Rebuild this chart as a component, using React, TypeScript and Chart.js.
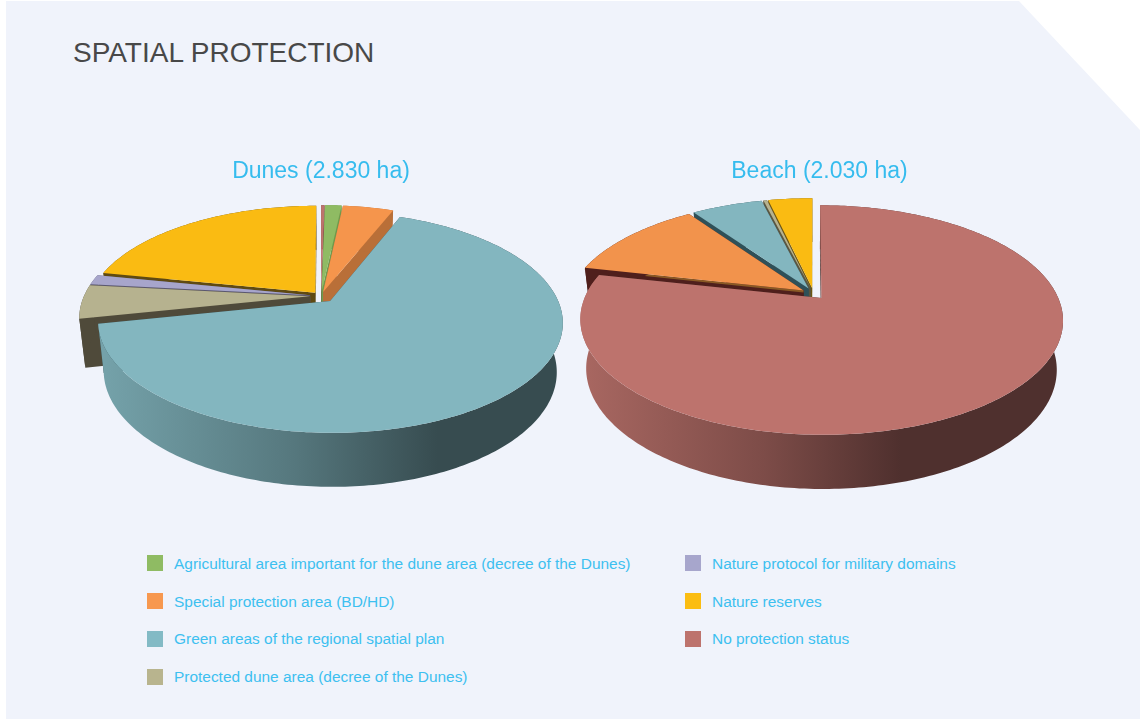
import React, { useEffect, useRef } from "react";
import { Chart, registerables } from "chart.js";

Chart.register(...registerables);

const pageTitle = "SPATIAL PROTECTION";
const dunesTitle = "Dunes (2.830 ha)";
const beachTitle = "Beach (2.030 ha)";

const dunesLabels = [
  "No protection status",
  "Agricultural area important for the dune area (decree of the Dunes)",
  "Special protection area (BD/HD)",
  "Green areas of the regional spatial plan",
  "Protected dune area (decree of the Dunes)",
  "Nature protocol for military domains",
  "Nature reserves",
];
const dunesValues = [0.3, 1.4, 4.3, 65.7, 5.0, 1.5, 21.8];
const dunesColors = ["#bd736d", "#8fbb63", "#f5954c", "#83b6bf", "#b6b28f", "#a7a5cb", "#fabb12"];
const dunesWalls = ["#6b3f3b", "#6f9a4c", "#b96f38", "#344c51", "#4f4a3a", "#5b5870", "#5f4a12"];
const dunesTrims = [null, null, null, null, null, null, null];
const dunesOffsets = [9, 9, 9, 14, 11, 11, 9];

const beachLabels = [
  "No protection status",
  "Special protection area (BD/HD)",
  "Green areas of the regional spatial plan",
  "Protected dune area (decree of the Dunes)",
  "Nature reserves",
];
const beachValues = [78.5, 11.8, 5.8, 0.3, 3.6];
const beachColors = ["#bd736d", "#f2934c", "#83b6bf", "#b6b28f", "#fabb12"];
const beachWalls = ["#4f302c", "#4f1f1c", "#2f5058", "#5a5640", "#6b5512"];
const beachTrims = [null, "#8a5a25", null, null, null];
const beachOffsets = [12.5, 12, 12, 12, 12];

const legendLeft = [
  ["Agricultural area important for the dune area (decree of the Dunes)", "#8fbb63"],
  ["Special protection area (BD/HD)", "#f7984f"],
  ["Green areas of the regional spatial plan", "#83bac5"],
  ["Protected dune area (decree of the Dunes)", "#b8b48e"],
];
const legendRight = [
  ["Nature protocol for military domains", "#a7a6cc"],
  ["Nature reserves", "#fbbd12"],
  ["No protection status", "#bd736d"],
];

function scale(hex: string, f: number) {
  const n = parseInt(hex.slice(1), 16);
  const c = [(n >> 16) & 255, (n >> 8) & 255, n & 255].map((v) => Math.round(v * f));
  return `rgb(${c[0]},${c[1]},${c[2]})`;
}

type View = {
  k: number;
  squash: number;
  depth: number;
  sx: number;
  sy: number;
  shiftX: number;
  darkStop: number;
  walls: string[];
  trims: (string | null)[];
};

function makePie3d(view: View) {
  return {
    id: "pie3d",
    beforeDatasetsDraw(chart: any) {
      const ctx: CanvasRenderingContext2D = chart.ctx;
      const arcs: any[] = chart.getDatasetMeta(0).data;
      const colors: string[] = chart.data.datasets[0].backgroundColor;
      const values: number[] = chart.data.datasets[0].data;
      const offsets: number[] = chart.data.datasets[0].offset;
      const biggest = values.indexOf(Math.max(...values));
      const { k, squash, depth, sx, sy } = view;

      const order = arcs
        .map((arc, i) => {
          const mid = (arc.startAngle + arc.endAngle) / 2 + Math.PI / 2;
          return { arc, i, mid, back: -Math.cos(mid) };
        })
        .sort((a, b) => a.back - b.back);

      for (const { arc, i, mid } of order) {
        const R = arc.outerRadius;
        const cx = arc.x + view.shiftX;
        const d = offsets[i] / R;
        const u0 = d * Math.sin(mid);
        const v0 = -d * Math.cos(mid);
        const t0 = arc.startAngle + Math.PI / 2;
        const t1 = arc.endAngle + Math.PI / 2;

        const project = (t: number, r: number, low: boolean) => {
          const u = u0 + r * Math.sin(t);
          const v = v0 - r * Math.cos(t);
          const w = 1 - k * v;
          const X = (R * u) / w;
          const Y = (R * squash * v) / w;
          return low ? [cx + X * sx, arc.y + Y * sy + depth] : [cx + X, arc.y + Y];
        };
        const rim = (low: boolean) => {
          const n = Math.max(2, Math.ceil(((t1 - t0) * 180) / Math.PI));
          const pts: number[][] = [];
          for (let s = 0; s <= n; s++) pts.push(project(t0 + ((t1 - t0) * s) / n, 1, low));
          return pts;
        };
        const fill = (pts: number[][], style: any) => {
          ctx.beginPath();
          pts.forEach((p, j) => (j ? ctx.lineTo(p[0], p[1]) : ctx.moveTo(p[0], p[1])));
          ctx.closePath();
          ctx.fillStyle = style;
          ctx.fill();
        };

        const wall = view.walls[i];
        for (const t of [t0, t1]) {
          fill([project(t, 0, false), project(t, 1, false), project(t, 1, true), project(t, 0, true)], wall);
        }
        const trim = view.trims[i];
        if (trim) {
          const a = project(t0, 0, false);
          const b = project(t0, 1, false);
          ctx.beginPath();
          ctx.moveTo(a[0], a[1] + 1);
          ctx.lineTo(b[0], b[1] + 1);
          ctx.strokeStyle = trim;
          ctx.lineWidth = 2;
          ctx.stroke();
        }
        let outer: any = wall;
        if (i === biggest) {
          const g = ctx.createLinearGradient(cx - R * 1.01, 0, cx + R * 1.05, 0);
          g.addColorStop(0, scale(colors[i], 0.9));
          g.addColorStop(view.darkStop * 0.58, scale(colors[i], 0.66));
          g.addColorStop(view.darkStop, scale(colors[i], 0.42));
          g.addColorStop(1, scale(colors[i], 0.42));
          outer = g;
        }
        fill([...rim(false), ...rim(true).reverse()], outer);
        fill([project(t0, 0, false), ...rim(false)], colors[i]);
      }
      return false;
    },
  };
}

const titleFont = { family: "'Liberation Sans', sans-serif", size: 23, weight: "normal" as const };

function Pie({ left, top, width, height, labels, values, colors, offsets, title, radius, padBottom, view }: any) {
  const ref = useRef<HTMLCanvasElement>(null);
  useEffect(() => {
    const chart = new Chart(ref.current!, {
      type: "pie",
      data: { labels, datasets: [{ data: values, backgroundColor: colors, offset: offsets, borderWidth: 0, radius }] },
      options: {
        responsive: false,
        maintainAspectRatio: false,
        animation: false,
        layout: { padding: { bottom: padBottom } },
        plugins: {
          legend: { display: false },
          tooltip: { enabled: false },
          title: { display: true, text: title, color: "#36bcee", font: titleFont, padding: { top: 8, bottom: 0 } },
        },
      } as any,
      plugins: [makePie3d(view)],
    });
    return () => chart.destroy();
  }, []);
  return <canvas ref={ref} width={width} height={height} style={{ position: "absolute", left, top, width, height }} />;
}

const legendText = {
  position: "absolute",
  fontFamily: "'Liberation Sans', sans-serif",
  fontSize: 15.45,
  lineHeight: "18px",
  color: "#3dc0f0",
  whiteSpace: "nowrap",
} as const;

function LegendColumn({ items, x }: { items: string[][]; x: number }) {
  return (
    <>
      {items.map(([label, color], i) => (
        <React.Fragment key={label}>
          <div style={{ position: "absolute", left: x, top: 555 + i * 38, width: 16, height: 16, background: color }} />
          <div style={{ ...legendText, left: x + 27, top: 555 + i * 37.7 }}>{label}</div>
        </React.Fragment>
      ))}
    </>
  );
}

export default function App() {
  return (
    <div style={{ position: "absolute", left: 0, top: 0, width: 1140, height: 720, overflow: "hidden", background: "#fff" }}>
      <div
        style={{
          position: "absolute",
          inset: 0,
          background: "#f0f3fb",
          clipPath: "polygon(6px 1px, 1019px 1px, 1140px 130px, 1140px 719px, 6px 719px)",
        }}
      />
      <div
        style={{
          position: "absolute",
          left: 73,
          top: 36,
          fontFamily: "'Liberation Sans', sans-serif",
          fontSize: 28,
          lineHeight: "34px",
          color: "#484848",
          whiteSpace: "nowrap",
        }}
      >
        {pageTitle}
      </div>
      <Pie
        left={71}
        top={150}
        width={500}
        height={400}
        labels={dunesLabels}
        values={dunesValues}
        colors={dunesColors}
        offsets={dunesOffsets}
        title={dunesTitle}
        radius={226}
        padBottom={143.6}
        view={{ k: 0.19, squash: 0.463, depth: 48, sx: 0.975, sy: 1.044, shiftX: 0, darkStop: 0.74, walls: dunesWalls, trims: dunesTrims }}
      />
      <Pie
        left={560}
        top={150}
        width={519}
        height={400}
        labels={beachLabels}
        values={beachValues}
        colors={beachColors}
        offsets={beachOffsets}
        title={beachTitle}
        radius={235}
        padBottom={148.6}
        view={{ k: 0.19, squash: 0.463, depth: 48, sx: 0.975, sy: 1.044, shiftX: -6, darkStop: 0.67, walls: beachWalls, trims: beachTrims }}
      />
      <LegendColumn items={legendLeft} x={147} />
      <LegendColumn items={legendRight} x={685} />
    </div>
  );
}
